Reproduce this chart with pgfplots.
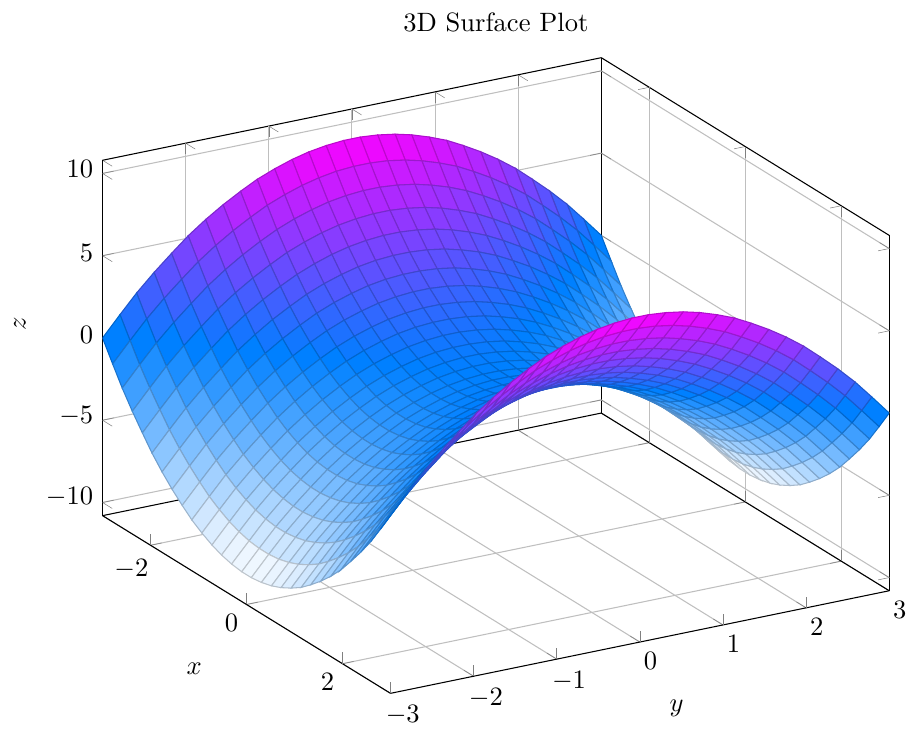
\documentclass[border=0pt]{standalone}
\usepackage{pgfplots}
\pgfplotsset{compat=1.18}
\begin{document}
\begin{tikzpicture}
\begin{axis}[
    width=12cm,
    height=10cm,
    view={60}{30},
    title={3D Surface Plot},
    xlabel={$x$},
    ylabel={$y$},
    zlabel={$z$},
    grid=major,
    colormap/cool,
    zmin=-10.8, zmax=10.8,
]
\addplot3[surf, mesh/rows=30, mesh/cols=30] coordinates {
(-3,-3,0)(-2.79,-3,-1.2)(-2.59,-3,-2.31)(-2.38,-3,-3.34)(-2.17,-3,-4.28)(-1.97,-3,-5.14)(-1.76,-3,-5.91)(-1.55,-3,-6.59)(-1.34,-3,-7.19)(-1.14,-3,-7.71)(-.93,-3,-8.13)(-.72,-3,-8.48)(-.52,-3,-8.73)(-.31,-3,-8.9)(-.1,-3,-8.99)(.1,-3,-8.99)(.31,-3,-8.9)(.52,-3,-8.73)(.72,-3,-8.48)(.93,-3,-8.13)(1.14,-3,-7.71)(1.34,-3,-7.19)(1.55,-3,-6.59)(1.76,-3,-5.91)(1.97,-3,-5.14)(2.17,-3,-4.28)(2.38,-3,-3.34)(2.59,-3,-2.31)(2.79,-3,-1.2)(3,-3,0)
(-3,-2.79,1.2)(-2.79,-2.79,0)(-2.59,-2.79,-1.11)(-2.38,-2.79,-2.14)(-2.17,-2.79,-3.08)(-1.97,-2.79,-3.94)(-1.76,-2.79,-4.71)(-1.55,-2.79,-5.39)(-1.34,-2.79,-5.99)(-1.14,-2.79,-6.51)(-.93,-2.79,-6.93)(-.72,-2.79,-7.28)(-.52,-2.79,-7.53)(-.31,-2.79,-7.71)(-.1,-2.79,-7.79)(.1,-2.79,-7.79)(.31,-2.79,-7.71)(.52,-2.79,-7.53)(.72,-2.79,-7.28)(.93,-2.79,-6.93)(1.14,-2.79,-6.51)(1.34,-2.79,-5.99)(1.55,-2.79,-5.39)(1.76,-2.79,-4.71)(1.97,-2.79,-3.94)(2.17,-2.79,-3.08)(2.38,-2.79,-2.14)(2.59,-2.79,-1.11)(2.79,-2.79,0)(3,-2.79,1.2)
(-3,-2.59,2.31)(-2.79,-2.59,1.11)(-2.59,-2.59,0)(-2.38,-2.59,-1.03)(-2.17,-2.59,-1.97)(-1.97,-2.59,-2.83)(-1.76,-2.59,-3.6)(-1.55,-2.59,-4.28)(-1.34,-2.59,-4.88)(-1.14,-2.59,-5.39)(-.93,-2.59,-5.82)(-.72,-2.59,-6.16)(-.52,-2.59,-6.42)(-.31,-2.59,-6.59)(-.1,-2.59,-6.68)(.1,-2.59,-6.68)(.31,-2.59,-6.59)(.52,-2.59,-6.42)(.72,-2.59,-6.16)(.93,-2.59,-5.82)(1.14,-2.59,-5.39)(1.34,-2.59,-4.88)(1.55,-2.59,-4.28)(1.76,-2.59,-3.6)(1.97,-2.59,-2.83)(2.17,-2.59,-1.97)(2.38,-2.59,-1.03)(2.59,-2.59,0)(2.79,-2.59,1.11)(3,-2.59,2.31)
(-3,-2.38,3.34)(-2.79,-2.38,2.14)(-2.59,-2.38,1.03)(-2.38,-2.38,0)(-2.17,-2.38,-.94)(-1.97,-2.38,-1.8)(-1.76,-2.38,-2.57)(-1.55,-2.38,-3.25)(-1.34,-2.38,-3.85)(-1.14,-2.38,-4.37)(-.93,-2.38,-4.79)(-.72,-2.38,-5.14)(-.52,-2.38,-5.39)(-.31,-2.38,-5.56)(-.1,-2.38,-5.65)(.1,-2.38,-5.65)(.31,-2.38,-5.56)(.52,-2.38,-5.39)(.72,-2.38,-5.14)(.93,-2.38,-4.79)(1.14,-2.38,-4.37)(1.34,-2.38,-3.85)(1.55,-2.38,-3.25)(1.76,-2.38,-2.57)(1.97,-2.38,-1.8)(2.17,-2.38,-.94)(2.38,-2.38,0)(2.59,-2.38,1.03)(2.79,-2.38,2.14)(3,-2.38,3.34)
(-3,-2.17,4.28)(-2.79,-2.17,3.08)(-2.59,-2.17,1.97)(-2.38,-2.17,.94)(-2.17,-2.17,0)(-1.97,-2.17,-.86)(-1.76,-2.17,-1.63)(-1.55,-2.17,-2.31)(-1.34,-2.17,-2.91)(-1.14,-2.17,-3.42)(-.93,-2.17,-3.85)(-.72,-2.17,-4.2)(-.52,-2.17,-4.45)(-.31,-2.17,-4.62)(-.1,-2.17,-4.71)(.1,-2.17,-4.71)(.31,-2.17,-4.62)(.52,-2.17,-4.45)(.72,-2.17,-4.2)(.93,-2.17,-3.85)(1.14,-2.17,-3.42)(1.34,-2.17,-2.91)(1.55,-2.17,-2.31)(1.76,-2.17,-1.63)(1.97,-2.17,-.86)(2.17,-2.17,0)(2.38,-2.17,.94)(2.59,-2.17,1.97)(2.79,-2.17,3.08)(3,-2.17,4.28)
(-3,-1.97,5.14)(-2.79,-1.97,3.94)(-2.59,-1.97,2.83)(-2.38,-1.97,1.8)(-2.17,-1.97,.86)(-1.97,-1.97,0)(-1.76,-1.97,-.77)(-1.55,-1.97,-1.46)(-1.34,-1.97,-2.05)(-1.14,-1.97,-2.57)(-.93,-1.97,-3)(-.72,-1.97,-3.34)(-.52,-1.97,-3.6)(-.31,-1.97,-3.77)(-.1,-1.97,-3.85)(.1,-1.97,-3.85)(.31,-1.97,-3.77)(.52,-1.97,-3.6)(.72,-1.97,-3.34)(.93,-1.97,-3)(1.14,-1.97,-2.57)(1.34,-1.97,-2.05)(1.55,-1.97,-1.46)(1.76,-1.97,-.77)(1.97,-1.97,0)(2.17,-1.97,.86)(2.38,-1.97,1.8)(2.59,-1.97,2.83)(2.79,-1.97,3.94)(3,-1.97,5.14)
(-3,-1.76,5.91)(-2.79,-1.76,4.71)(-2.59,-1.76,3.6)(-2.38,-1.76,2.57)(-2.17,-1.76,1.63)(-1.97,-1.76,.77)(-1.76,-1.76,0)(-1.55,-1.76,-.68)(-1.34,-1.76,-1.28)(-1.14,-1.76,-1.8)(-.93,-1.76,-2.23)(-.72,-1.76,-2.57)(-.52,-1.76,-2.83)(-.31,-1.76,-3)(-.1,-1.76,-3.08)(.1,-1.76,-3.08)(.31,-1.76,-3)(.52,-1.76,-2.83)(.72,-1.76,-2.57)(.93,-1.76,-2.23)(1.14,-1.76,-1.8)(1.34,-1.76,-1.28)(1.55,-1.76,-.68)(1.76,-1.76,0)(1.97,-1.76,.77)(2.17,-1.76,1.63)(2.38,-1.76,2.57)(2.59,-1.76,3.6)(2.79,-1.76,4.71)(3,-1.76,5.91)
(-3,-1.55,6.59)(-2.79,-1.55,5.39)(-2.59,-1.55,4.28)(-2.38,-1.55,3.25)(-2.17,-1.55,2.31)(-1.97,-1.55,1.46)(-1.76,-1.55,.68)(-1.55,-1.55,0)(-1.34,-1.55,-.6)(-1.14,-1.55,-1.11)(-.93,-1.55,-1.54)(-.72,-1.55,-1.88)(-.52,-1.55,-2.14)(-.31,-1.55,-2.31)(-.1,-1.55,-2.4)(.1,-1.55,-2.4)(.31,-1.55,-2.31)(.52,-1.55,-2.14)(.72,-1.55,-1.88)(.93,-1.55,-1.54)(1.14,-1.55,-1.11)(1.34,-1.55,-.6)(1.55,-1.55,0)(1.76,-1.55,.68)(1.97,-1.55,1.46)(2.17,-1.55,2.31)(2.38,-1.55,3.25)(2.59,-1.55,4.28)(2.79,-1.55,5.39)(3,-1.55,6.59)
(-3,-1.34,7.19)(-2.79,-1.34,5.99)(-2.59,-1.34,4.88)(-2.38,-1.34,3.85)(-2.17,-1.34,2.91)(-1.97,-1.34,2.05)(-1.76,-1.34,1.28)(-1.55,-1.34,.6)(-1.34,-1.34,0)(-1.14,-1.34,-.51)(-.93,-1.34,-.94)(-.72,-1.34,-1.28)(-.52,-1.34,-1.54)(-.31,-1.34,-1.71)(-.1,-1.34,-1.8)(.1,-1.34,-1.8)(.31,-1.34,-1.71)(.52,-1.34,-1.54)(.72,-1.34,-1.28)(.93,-1.34,-.94)(1.14,-1.34,-.51)(1.34,-1.34,0)(1.55,-1.34,.6)(1.76,-1.34,1.28)(1.97,-1.34,2.05)(2.17,-1.34,2.91)(2.38,-1.34,3.85)(2.59,-1.34,4.88)(2.79,-1.34,5.99)(3,-1.34,7.19)
(-3,-1.14,7.71)(-2.79,-1.14,6.51)(-2.59,-1.14,5.39)(-2.38,-1.14,4.37)(-2.17,-1.14,3.42)(-1.97,-1.14,2.57)(-1.76,-1.14,1.8)(-1.55,-1.14,1.11)(-1.34,-1.14,.51)(-1.14,-1.14,0)(-.93,-1.14,-.43)(-.72,-1.14,-.77)(-.52,-1.14,-1.03)(-.31,-1.14,-1.2)(-.1,-1.14,-1.28)(.1,-1.14,-1.28)(.31,-1.14,-1.2)(.52,-1.14,-1.03)(.72,-1.14,-.77)(.93,-1.14,-.43)(1.14,-1.14,0)(1.34,-1.14,.51)(1.55,-1.14,1.11)(1.76,-1.14,1.8)(1.97,-1.14,2.57)(2.17,-1.14,3.42)(2.38,-1.14,4.37)(2.59,-1.14,5.39)(2.79,-1.14,6.51)(3,-1.14,7.71)
(-3,-.93,8.13)(-2.79,-.93,6.93)(-2.59,-.93,5.82)(-2.38,-.93,4.79)(-2.17,-.93,3.85)(-1.97,-.93,3)(-1.76,-.93,2.23)(-1.55,-.93,1.54)(-1.34,-.93,.94)(-1.14,-.93,.43)(-.93,-.93,0)(-.72,-.93,-.34)(-.52,-.93,-.6)(-.31,-.93,-.77)(-.1,-.93,-.86)(.1,-.93,-.86)(.31,-.93,-.77)(.52,-.93,-.6)(.72,-.93,-.34)(.93,-.93,0)(1.14,-.93,.43)(1.34,-.93,.94)(1.55,-.93,1.54)(1.76,-.93,2.23)(1.97,-.93,3)(2.17,-.93,3.85)(2.38,-.93,4.79)(2.59,-.93,5.82)(2.79,-.93,6.93)(3,-.93,8.13)
(-3,-.72,8.48)(-2.79,-.72,7.28)(-2.59,-.72,6.16)(-2.38,-.72,5.14)(-2.17,-.72,4.2)(-1.97,-.72,3.34)(-1.76,-.72,2.57)(-1.55,-.72,1.88)(-1.34,-.72,1.28)(-1.14,-.72,.77)(-.93,-.72,.34)(-.72,-.72,0)(-.52,-.72,-.26)(-.31,-.72,-.43)(-.1,-.72,-.51)(.1,-.72,-.51)(.31,-.72,-.43)(.52,-.72,-.26)(.72,-.72,0)(.93,-.72,.34)(1.14,-.72,.77)(1.34,-.72,1.28)(1.55,-.72,1.88)(1.76,-.72,2.57)(1.97,-.72,3.34)(2.17,-.72,4.2)(2.38,-.72,5.14)(2.59,-.72,6.16)(2.79,-.72,7.28)(3,-.72,8.48)
(-3,-.52,8.73)(-2.79,-.52,7.53)(-2.59,-.52,6.42)(-2.38,-.52,5.39)(-2.17,-.52,4.45)(-1.97,-.52,3.6)(-1.76,-.52,2.83)(-1.55,-.52,2.14)(-1.34,-.52,1.54)(-1.14,-.52,1.03)(-.93,-.52,.6)(-.72,-.52,.26)(-.52,-.52,0)(-.31,-.52,-.17)(-.1,-.52,-.26)(.1,-.52,-.26)(.31,-.52,-.17)(.52,-.52,0)(.72,-.52,.26)(.93,-.52,.6)(1.14,-.52,1.03)(1.34,-.52,1.54)(1.55,-.52,2.14)(1.76,-.52,2.83)(1.97,-.52,3.6)(2.17,-.52,4.45)(2.38,-.52,5.39)(2.59,-.52,6.42)(2.79,-.52,7.53)(3,-.52,8.73)
(-3,-.31,8.9)(-2.79,-.31,7.71)(-2.59,-.31,6.59)(-2.38,-.31,5.56)(-2.17,-.31,4.62)(-1.97,-.31,3.77)(-1.76,-.31,3)(-1.55,-.31,2.31)(-1.34,-.31,1.71)(-1.14,-.31,1.2)(-.93,-.31,.77)(-.72,-.31,.43)(-.52,-.31,.17)(-.31,-.31,0)(-.1,-.31,-.09)(.1,-.31,-.09)(.31,-.31,0)(.52,-.31,.17)(.72,-.31,.43)(.93,-.31,.77)(1.14,-.31,1.2)(1.34,-.31,1.71)(1.55,-.31,2.31)(1.76,-.31,3)(1.97,-.31,3.77)(2.17,-.31,4.62)(2.38,-.31,5.56)(2.59,-.31,6.59)(2.79,-.31,7.71)(3,-.31,8.9)
(-3,-.1,8.99)(-2.79,-.1,7.79)(-2.59,-.1,6.68)(-2.38,-.1,5.65)(-2.17,-.1,4.71)(-1.97,-.1,3.85)(-1.76,-.1,3.08)(-1.55,-.1,2.4)(-1.34,-.1,1.8)(-1.14,-.1,1.28)(-.93,-.1,.86)(-.72,-.1,.51)(-.52,-.1,.26)(-.31,-.1,.09)(-.1,-.1,0)(.1,-.1,0)(.31,-.1,.09)(.52,-.1,.26)(.72,-.1,.51)(.93,-.1,.86)(1.14,-.1,1.28)(1.34,-.1,1.8)(1.55,-.1,2.4)(1.76,-.1,3.08)(1.97,-.1,3.85)(2.17,-.1,4.71)(2.38,-.1,5.65)(2.59,-.1,6.68)(2.79,-.1,7.79)(3,-.1,8.99)
(-3,.1,8.99)(-2.79,.1,7.79)(-2.59,.1,6.68)(-2.38,.1,5.65)(-2.17,.1,4.71)(-1.97,.1,3.85)(-1.76,.1,3.08)(-1.55,.1,2.4)(-1.34,.1,1.8)(-1.14,.1,1.28)(-.93,.1,.86)(-.72,.1,.51)(-.52,.1,.26)(-.31,.1,.09)(-.1,.1,0)(.1,.1,0)(.31,.1,.09)(.52,.1,.26)(.72,.1,.51)(.93,.1,.86)(1.14,.1,1.28)(1.34,.1,1.8)(1.55,.1,2.4)(1.76,.1,3.08)(1.97,.1,3.85)(2.17,.1,4.71)(2.38,.1,5.65)(2.59,.1,6.68)(2.79,.1,7.79)(3,.1,8.99)
(-3,.31,8.9)(-2.79,.31,7.71)(-2.59,.31,6.59)(-2.38,.31,5.56)(-2.17,.31,4.62)(-1.97,.31,3.77)(-1.76,.31,3)(-1.55,.31,2.31)(-1.34,.31,1.71)(-1.14,.31,1.2)(-.93,.31,.77)(-.72,.31,.43)(-.52,.31,.17)(-.31,.31,0)(-.1,.31,-.09)(.1,.31,-.09)(.31,.31,0)(.52,.31,.17)(.72,.31,.43)(.93,.31,.77)(1.14,.31,1.2)(1.34,.31,1.71)(1.55,.31,2.31)(1.76,.31,3)(1.97,.31,3.77)(2.17,.31,4.62)(2.38,.31,5.56)(2.59,.31,6.59)(2.79,.31,7.71)(3,.31,8.9)
(-3,.52,8.73)(-2.79,.52,7.53)(-2.59,.52,6.42)(-2.38,.52,5.39)(-2.17,.52,4.45)(-1.97,.52,3.6)(-1.76,.52,2.83)(-1.55,.52,2.14)(-1.34,.52,1.54)(-1.14,.52,1.03)(-.93,.52,.6)(-.72,.52,.26)(-.52,.52,0)(-.31,.52,-.17)(-.1,.52,-.26)(.1,.52,-.26)(.31,.52,-.17)(.52,.52,0)(.72,.52,.26)(.93,.52,.6)(1.14,.52,1.03)(1.34,.52,1.54)(1.55,.52,2.14)(1.76,.52,2.83)(1.97,.52,3.6)(2.17,.52,4.45)(2.38,.52,5.39)(2.59,.52,6.42)(2.79,.52,7.53)(3,.52,8.73)
(-3,.72,8.48)(-2.79,.72,7.28)(-2.59,.72,6.16)(-2.38,.72,5.14)(-2.17,.72,4.2)(-1.97,.72,3.34)(-1.76,.72,2.57)(-1.55,.72,1.88)(-1.34,.72,1.28)(-1.14,.72,.77)(-.93,.72,.34)(-.72,.72,0)(-.52,.72,-.26)(-.31,.72,-.43)(-.1,.72,-.51)(.1,.72,-.51)(.31,.72,-.43)(.52,.72,-.26)(.72,.72,0)(.93,.72,.34)(1.14,.72,.77)(1.34,.72,1.28)(1.55,.72,1.88)(1.76,.72,2.57)(1.97,.72,3.34)(2.17,.72,4.2)(2.38,.72,5.14)(2.59,.72,6.16)(2.79,.72,7.28)(3,.72,8.48)
(-3,.93,8.13)(-2.79,.93,6.93)(-2.59,.93,5.82)(-2.38,.93,4.79)(-2.17,.93,3.85)(-1.97,.93,3)(-1.76,.93,2.23)(-1.55,.93,1.54)(-1.34,.93,.94)(-1.14,.93,.43)(-.93,.93,0)(-.72,.93,-.34)(-.52,.93,-.6)(-.31,.93,-.77)(-.1,.93,-.86)(.1,.93,-.86)(.31,.93,-.77)(.52,.93,-.6)(.72,.93,-.34)(.93,.93,0)(1.14,.93,.43)(1.34,.93,.94)(1.55,.93,1.54)(1.76,.93,2.23)(1.97,.93,3)(2.17,.93,3.85)(2.38,.93,4.79)(2.59,.93,5.82)(2.79,.93,6.93)(3,.93,8.13)
(-3,1.14,7.71)(-2.79,1.14,6.51)(-2.59,1.14,5.39)(-2.38,1.14,4.37)(-2.17,1.14,3.42)(-1.97,1.14,2.57)(-1.76,1.14,1.8)(-1.55,1.14,1.11)(-1.34,1.14,.51)(-1.14,1.14,0)(-.93,1.14,-.43)(-.72,1.14,-.77)(-.52,1.14,-1.03)(-.31,1.14,-1.2)(-.1,1.14,-1.28)(.1,1.14,-1.28)(.31,1.14,-1.2)(.52,1.14,-1.03)(.72,1.14,-.77)(.93,1.14,-.43)(1.14,1.14,0)(1.34,1.14,.51)(1.55,1.14,1.11)(1.76,1.14,1.8)(1.97,1.14,2.57)(2.17,1.14,3.42)(2.38,1.14,4.37)(2.59,1.14,5.39)(2.79,1.14,6.51)(3,1.14,7.71)
(-3,1.34,7.19)(-2.79,1.34,5.99)(-2.59,1.34,4.88)(-2.38,1.34,3.85)(-2.17,1.34,2.91)(-1.97,1.34,2.05)(-1.76,1.34,1.28)(-1.55,1.34,.6)(-1.34,1.34,0)(-1.14,1.34,-.51)(-.93,1.34,-.94)(-.72,1.34,-1.28)(-.52,1.34,-1.54)(-.31,1.34,-1.71)(-.1,1.34,-1.8)(.1,1.34,-1.8)(.31,1.34,-1.71)(.52,1.34,-1.54)(.72,1.34,-1.28)(.93,1.34,-.94)(1.14,1.34,-.51)(1.34,1.34,0)(1.55,1.34,.6)(1.76,1.34,1.28)(1.97,1.34,2.05)(2.17,1.34,2.91)(2.38,1.34,3.85)(2.59,1.34,4.88)(2.79,1.34,5.99)(3,1.34,7.19)
(-3,1.55,6.59)(-2.79,1.55,5.39)(-2.59,1.55,4.28)(-2.38,1.55,3.25)(-2.17,1.55,2.31)(-1.97,1.55,1.46)(-1.76,1.55,.68)(-1.55,1.55,0)(-1.34,1.55,-.6)(-1.14,1.55,-1.11)(-.93,1.55,-1.54)(-.72,1.55,-1.88)(-.52,1.55,-2.14)(-.31,1.55,-2.31)(-.1,1.55,-2.4)(.1,1.55,-2.4)(.31,1.55,-2.31)(.52,1.55,-2.14)(.72,1.55,-1.88)(.93,1.55,-1.54)(1.14,1.55,-1.11)(1.34,1.55,-.6)(1.55,1.55,0)(1.76,1.55,.68)(1.97,1.55,1.46)(2.17,1.55,2.31)(2.38,1.55,3.25)(2.59,1.55,4.28)(2.79,1.55,5.39)(3,1.55,6.59)
(-3,1.76,5.91)(-2.79,1.76,4.71)(-2.59,1.76,3.6)(-2.38,1.76,2.57)(-2.17,1.76,1.63)(-1.97,1.76,.77)(-1.76,1.76,0)(-1.55,1.76,-.68)(-1.34,1.76,-1.28)(-1.14,1.76,-1.8)(-.93,1.76,-2.23)(-.72,1.76,-2.57)(-.52,1.76,-2.83)(-.31,1.76,-3)(-.1,1.76,-3.08)(.1,1.76,-3.08)(.31,1.76,-3)(.52,1.76,-2.83)(.72,1.76,-2.57)(.93,1.76,-2.23)(1.14,1.76,-1.8)(1.34,1.76,-1.28)(1.55,1.76,-.68)(1.76,1.76,0)(1.97,1.76,.77)(2.17,1.76,1.63)(2.38,1.76,2.57)(2.59,1.76,3.6)(2.79,1.76,4.71)(3,1.76,5.91)
(-3,1.97,5.14)(-2.79,1.97,3.94)(-2.59,1.97,2.83)(-2.38,1.97,1.8)(-2.17,1.97,.86)(-1.97,1.97,0)(-1.76,1.97,-.77)(-1.55,1.97,-1.46)(-1.34,1.97,-2.05)(-1.14,1.97,-2.57)(-.93,1.97,-3)(-.72,1.97,-3.34)(-.52,1.97,-3.6)(-.31,1.97,-3.77)(-.1,1.97,-3.85)(.1,1.97,-3.85)(.31,1.97,-3.77)(.52,1.97,-3.6)(.72,1.97,-3.34)(.93,1.97,-3)(1.14,1.97,-2.57)(1.34,1.97,-2.05)(1.55,1.97,-1.46)(1.76,1.97,-.77)(1.97,1.97,0)(2.17,1.97,.86)(2.38,1.97,1.8)(2.59,1.97,2.83)(2.79,1.97,3.94)(3,1.97,5.14)
(-3,2.17,4.28)(-2.79,2.17,3.08)(-2.59,2.17,1.97)(-2.38,2.17,.94)(-2.17,2.17,0)(-1.97,2.17,-.86)(-1.76,2.17,-1.63)(-1.55,2.17,-2.31)(-1.34,2.17,-2.91)(-1.14,2.17,-3.42)(-.93,2.17,-3.85)(-.72,2.17,-4.2)(-.52,2.17,-4.45)(-.31,2.17,-4.62)(-.1,2.17,-4.71)(.1,2.17,-4.71)(.31,2.17,-4.62)(.52,2.17,-4.45)(.72,2.17,-4.2)(.93,2.17,-3.85)(1.14,2.17,-3.42)(1.34,2.17,-2.91)(1.55,2.17,-2.31)(1.76,2.17,-1.63)(1.97,2.17,-.86)(2.17,2.17,0)(2.38,2.17,.94)(2.59,2.17,1.97)(2.79,2.17,3.08)(3,2.17,4.28)
(-3,2.38,3.34)(-2.79,2.38,2.14)(-2.59,2.38,1.03)(-2.38,2.38,0)(-2.17,2.38,-.94)(-1.97,2.38,-1.8)(-1.76,2.38,-2.57)(-1.55,2.38,-3.25)(-1.34,2.38,-3.85)(-1.14,2.38,-4.37)(-.93,2.38,-4.79)(-.72,2.38,-5.14)(-.52,2.38,-5.39)(-.31,2.38,-5.56)(-.1,2.38,-5.65)(.1,2.38,-5.65)(.31,2.38,-5.56)(.52,2.38,-5.39)(.72,2.38,-5.14)(.93,2.38,-4.79)(1.14,2.38,-4.37)(1.34,2.38,-3.85)(1.55,2.38,-3.25)(1.76,2.38,-2.57)(1.97,2.38,-1.8)(2.17,2.38,-.94)(2.38,2.38,0)(2.59,2.38,1.03)(2.79,2.38,2.14)(3,2.38,3.34)
(-3,2.59,2.31)(-2.79,2.59,1.11)(-2.59,2.59,0)(-2.38,2.59,-1.03)(-2.17,2.59,-1.97)(-1.97,2.59,-2.83)(-1.76,2.59,-3.6)(-1.55,2.59,-4.28)(-1.34,2.59,-4.88)(-1.14,2.59,-5.39)(-.93,2.59,-5.82)(-.72,2.59,-6.16)(-.52,2.59,-6.42)(-.31,2.59,-6.59)(-.1,2.59,-6.68)(.1,2.59,-6.68)(.31,2.59,-6.59)(.52,2.59,-6.42)(.72,2.59,-6.16)(.93,2.59,-5.82)(1.14,2.59,-5.39)(1.34,2.59,-4.88)(1.55,2.59,-4.28)(1.76,2.59,-3.6)(1.97,2.59,-2.83)(2.17,2.59,-1.97)(2.38,2.59,-1.03)(2.59,2.59,0)(2.79,2.59,1.11)(3,2.59,2.31)
(-3,2.79,1.2)(-2.79,2.79,0)(-2.59,2.79,-1.11)(-2.38,2.79,-2.14)(-2.17,2.79,-3.08)(-1.97,2.79,-3.94)(-1.76,2.79,-4.71)(-1.55,2.79,-5.39)(-1.34,2.79,-5.99)(-1.14,2.79,-6.51)(-.93,2.79,-6.93)(-.72,2.79,-7.28)(-.52,2.79,-7.53)(-.31,2.79,-7.71)(-.1,2.79,-7.79)(.1,2.79,-7.79)(.31,2.79,-7.71)(.52,2.79,-7.53)(.72,2.79,-7.28)(.93,2.79,-6.93)(1.14,2.79,-6.51)(1.34,2.79,-5.99)(1.55,2.79,-5.39)(1.76,2.79,-4.71)(1.97,2.79,-3.94)(2.17,2.79,-3.08)(2.38,2.79,-2.14)(2.59,2.79,-1.11)(2.79,2.79,0)(3,2.79,1.2)
(-3,3,0)(-2.79,3,-1.2)(-2.59,3,-2.31)(-2.38,3,-3.34)(-2.17,3,-4.28)(-1.97,3,-5.14)(-1.76,3,-5.91)(-1.55,3,-6.59)(-1.34,3,-7.19)(-1.14,3,-7.71)(-.93,3,-8.13)(-.72,3,-8.48)(-.52,3,-8.73)(-.31,3,-8.9)(-.1,3,-8.99)(.1,3,-8.99)(.31,3,-8.9)(.52,3,-8.73)(.72,3,-8.48)(.93,3,-8.13)(1.14,3,-7.71)(1.34,3,-7.19)(1.55,3,-6.59)(1.76,3,-5.91)(1.97,3,-5.14)(2.17,3,-4.28)(2.38,3,-3.34)(2.59,3,-2.31)(2.79,3,-1.2)(3,3,0)
};
\end{axis}
% same page size, content moved to where the reference has it
\coordinate (bbsw) at (current bounding box.south west);
\coordinate (bbne) at (current bounding box.north east);
\pgfresetboundingbox
\useasboundingbox ([shift={(-2pt,1.6pt)}]bbsw) rectangle ([shift={(-2pt,1.6pt)}]bbne);
\end{tikzpicture}
\end{document}
